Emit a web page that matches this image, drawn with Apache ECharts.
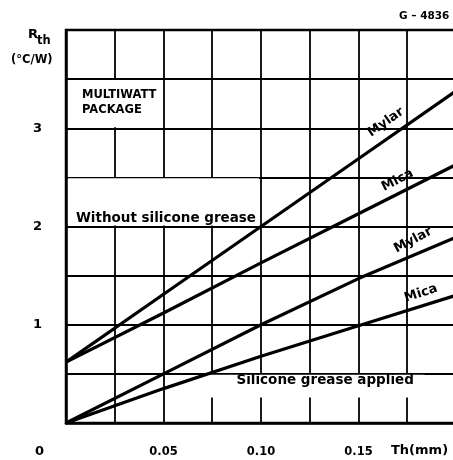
<!DOCTYPE html>
<html>
<head>
<meta charset="utf-8">
<script src="https://cdn.jsdelivr.net/npm/echarts@6/dist/echarts.min.js"></script>
<style>
html,body{margin:0;padding:0;background:#fff;}
#c{width:453px;height:460px;}
</style>
</head>
<body>
<div id="c"></div>
<script>
// Data (Th in mm, Rth in °C/W)
const thickness = [0, 0.05, 0.10, 0.15, 0.20];
const mylarDry = [0.62, 1.31, 2.00, 2.69, 3.38];
const micaDry = [0.62, 1.12, 1.63, 2.13, 2.63];
const mylarGrease = [0, 0.50, 1.00, 1.47, 1.89];
const micaGrease = [0, 0.35, 0.68, 0.99, 1.30];
const xTickLabels = ['0.05', '0.10', '0.15'];
const yTickLabels = ['1', '2', '3'];

const FONT = "'DejaVu Sans', sans-serif";
const pairs = arr => thickness.map((t, i) => [t, arr[i]]);

const chart = echarts.init(document.getElementById('c'), null, {renderer: 'canvas'});

function lineSeries(name, arr, labelText, coord, rot, extra) {
  const s = {
    name: name,
    type: 'line',
    data: pairs(arr),
    symbol: 'none',
    silent: true,
    lineStyle: {color: '#000', width: 3.2},
    z: 5,
    markPoint: {
      symbol: 'circle',
      symbolSize: 0,
      silent: true,
      data: [{coord: coord, value: labelText}],
      label: {
        show: true, position: 'inside', formatter: labelText, rotate: rot,
        color: '#000', fontFamily: FONT, fontWeight: 'bold', fontSize: 13
      }
    }
  };
  return Object.assign(s, extra || {});
}

const boxLabel = {color: '#000', fontFamily: FONT, fontWeight: 'bold'};

chart.setOption({
  animation: false,
  backgroundColor: '#fff',
  grid: {left: 66, width: 390, top: 30, bottom: 37, outerBoundsMode: 'none', show: true, borderColor: '#000', borderWidth: 2.5, containLabel: false},
  xAxis: {
    type: 'value', min: 0, max: 0.2, interval: 0.025,
    axisLine: {show: true, lineStyle: {color: '#000', width: 2.5}},
    axisTick: {show: false},
    splitLine: {show: true, lineStyle: {color: '#000', width: 1.8}},
    axisLabel: {
      margin: 23, color: '#000', fontFamily: FONT, fontWeight: 'bold', fontSize: 11.5,
      formatter: v => { const s = v.toFixed(2); return xTickLabels.includes(s) ? s : ''; }
    }
  },
  yAxis: {
    type: 'value', min: 0, max: 4, interval: 0.5,
    axisLine: {show: true, lineStyle: {color: '#000', width: 2.5}},
    axisTick: {show: false},
    splitLine: {show: true, lineStyle: {color: '#000', width: 1.8}},
    axisLabel: {
      margin: 24, color: '#000', fontFamily: FONT, fontWeight: 'bold', fontSize: 13,
      formatter: v => yTickLabels.includes(String(v)) ? String(v) : ''
    }
  },
  graphic: [
    {type: 'text', left: 399, top: 11, style: {text: 'G – 4836', font: "bold 10.5px " + FONT, fill: '#000'}},
    {type: 'text', left: 28, top: 28, style: {text: 'R', font: "bold 13px " + FONT, fill: '#000'}},
    {type: 'text', left: 37, top: 35, style: {text: 'th', font: "bold 11.5px " + FONT, fill: '#000'}},
    {type: 'text', left: 11, top: 54, style: {text: '(°C/W)', font: "bold 11.5px " + FONT, fill: '#000'}},
    {type: 'text', left: 35, top: 445, style: {text: '0', font: "bold 13px " + FONT, fill: '#000'}},
    {type: 'text', left: 391, top: 444, style: {text: 'Th(mm)', font: "bold 13px " + FONT, fill: '#000'}}
  ],
  series: [
    lineSeries('Mylar (dry)', mylarDry, 'Mylar', [0.164, 3.06], 35, {
      markArea: {
        silent: true,
        itemStyle: {color: '#fff', borderWidth: 0},
        data: [
          [{coord: [0.001, 2.01], label: Object.assign({show: true, position: [8, 40], align: 'left', verticalAlign: 'middle', formatter: 'Without silicone grease', fontSize: 13.5}, boxLabel)},
           {coord: [0.099, 2.49]}],
          [{coord: [0.001, 3.01], label: Object.assign({show: true, position: [14, 22], align: 'left', verticalAlign: 'middle', lineHeight: 15, formatter: 'MULTIWATT\nPACKAGE', fontSize: 11.5}, boxLabel)},
           {coord: [0.049, 3.49]}],
          [{coord: [0.07, 0.26], label: Object.assign({show: true, position: [34, 6], align: 'left', verticalAlign: 'middle', formatter: 'Silicone grease applied', fontSize: 13.5}, boxLabel)},
           {coord: [0.184, 0.49]}]
        ]
      }
    }),
    lineSeries('Mica (dry)', micaDry, 'Mica', [0.170, 2.47], 27),
    lineSeries('Mylar (grease)', mylarGrease, 'Mylar', [0.178, 1.86], 28),
    lineSeries('Mica (grease)', micaGrease, 'Mica', [0.182, 1.32], 18)
  ]
});
</script>
</body>
</html>
